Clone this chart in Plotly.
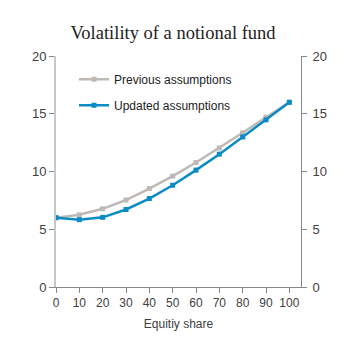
import plotly.graph_objects as go

equity_share = [0, 10, 20, 30, 40, 50, 60, 70, 80, 90, 100]
previous = [6.0, 6.25, 6.77, 7.53, 8.52, 9.6, 10.78, 12.03, 13.35, 14.7, 16.0]
updated = [6.0, 5.83, 6.03, 6.71, 7.66, 8.81, 10.12, 11.5, 12.99, 14.47, 15.99]
x_ticks = [0, 10, 20, 30, 40, 50, 60, 70, 80, 90, 100]
y_ticks = [0, 5, 10, 15, 20]

GREY = "#BEB9B5"
BLUE = "#0A8BC6"
font_sans = "Liberation Sans, Arial, sans-serif"

fig = go.Figure()
fig.add_trace(go.Scatter(
    x=equity_share, y=previous, name="Previous assumptions",
    mode="lines+markers", line=dict(color=GREY, width=2.5),
    marker=dict(symbol="square", size=5, color=GREY),
    legendgroup="a",
))
fig.add_trace(go.Scatter(
    x=equity_share, y=updated, name="Updated assumptions",
    mode="lines+markers", line=dict(color=BLUE, width=2.5),
    marker=dict(symbol="square", size=5, color=BLUE),
    legendgroup="b",
))
# right-hand axis mirror
fig.add_trace(go.Scatter(
    x=equity_share, y=updated, yaxis="y2", mode="lines",
    line=dict(width=0), opacity=0, showlegend=False, hoverinfo="skip",
))

fig.update_layout(
    width=346, height=341,
    margin=dict(l=56, r=45, t=56, b=50),
    paper_bgcolor="white", plot_bgcolor="white",
    title=dict(text="Volatility of a notional fund", x=0.5, xanchor="center",
               y=1 - 33 / 341, yanchor="middle",
               font=dict(family="Liberation Serif, Times New Roman, serif", size=18.5, color="#222")),
    font=dict(family=font_sans, size=12, color="#404040"),
    xaxis=dict(range=[0, 105], tickvals=x_ticks, ticks="outside", ticklen=5,
               tickcolor="#888", showline=True, linecolor="#888", linewidth=1,
               showgrid=False, zeroline=False,
               title=dict(text="Equitiy share", standoff=10,
                          font=dict(size=12, color="#404040")),
               tickfont=dict(size=12, color="#404040")),
    yaxis=dict(range=[0, 20], tickvals=y_ticks, ticks="outside", ticklen=5,
               tickcolor="#888", showline=True, linecolor="#C8C8C8", linewidth=2,
               showgrid=False, zeroline=False,
               tickfont=dict(size=13, color="#404040")),
    yaxis2=dict(range=[0, 20], tickvals=y_ticks, ticks="outside", ticklen=5,
                tickcolor="#888", showline=True, linecolor="#888", linewidth=1,
                overlaying="y", side="right", anchor="x",
                showgrid=False, zeroline=False, ticklabelstandoff=3,
                tickfont=dict(size=13, color="#404040")),
    legend=dict(x=(74 - 56) / 245, y=1 - (65 - 56) / 235, xanchor="left", yanchor="top",
                bgcolor="rgba(0,0,0,0)", itemwidth=30, tracegroupgap=7,
                font=dict(size=12, color="#222")),
    showlegend=True,
)

fig.write_html("out.html")
